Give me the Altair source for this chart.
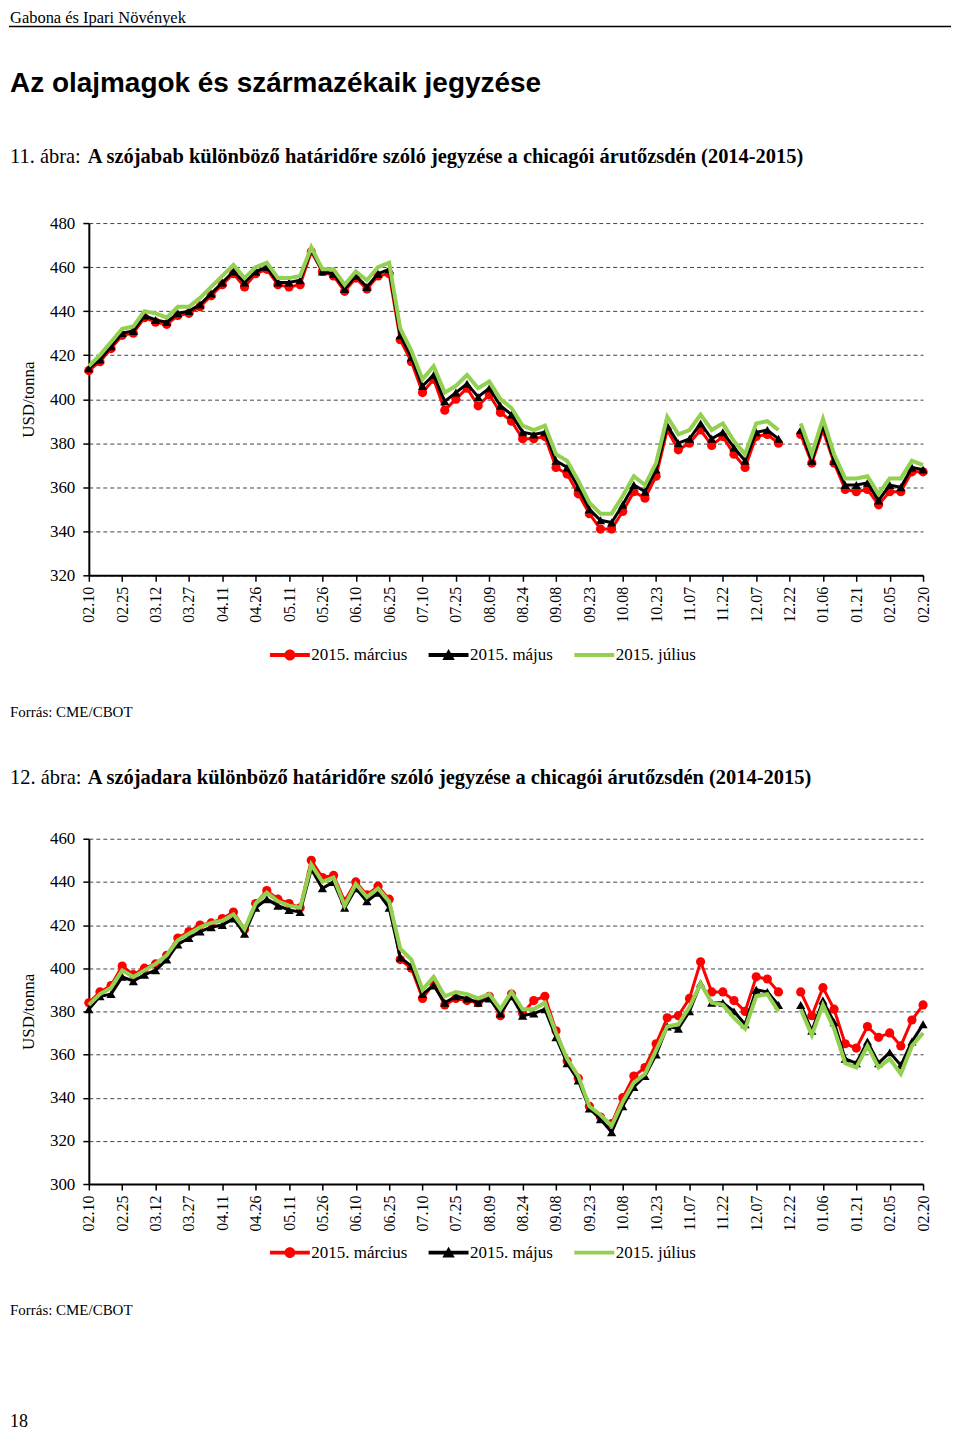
import altair as alt
import pandas as pd

# ---------------- text ----------------
PAGE_SECTION = "Gabona és Ipari Növények"
PAGE_TITLE = "Az olajmagok és származékaik jegyzése"
FIG1_NUM = "11. ábra:"
FIG1_TEXT = "A szójabab különböző határidőre szóló jegyzése a chicagói árutőzsdén (2014-2015)"
FIG2_NUM = "12. ábra:"
FIG2_TEXT = "A szójadara különböző határidőre szóló jegyzése a chicagói árutőzsdén (2014-2015)"
SOURCE = "Forrás: CME/CBOT"
PAGE_NO = "18"
Y_TITLE = "USD/tonna"

SERIES = ["2015. március", "2015. május", "2015. július"]
COLORS = ["#ff0000", "#000000", "#92d050"]

TICK_DATES = ["2014-02-10", "2014-02-25", "2014-03-12", "2014-03-27", "2014-04-11",
              "2014-04-26", "2014-05-11", "2014-05-26", "2014-06-10", "2014-06-25",
              "2014-07-10", "2014-07-25", "2014-08-09", "2014-08-24", "2014-09-08",
              "2014-09-23", "2014-10-08", "2014-10-23", "2014-11-07", "2014-11-22",
              "2014-12-07", "2014-12-22", "2015-01-06", "2015-01-21", "2015-02-05",
              "2015-02-20"]

# observation dates (every 5th calendar day from 2014-02-10 to 2015-02-20)
DATES = [d.strftime("%Y-%m-%d") for d in pd.date_range("2014-02-10", "2015-02-20", freq="5D")]

# ---------------- 11. ábra: szójabab (USD/t) ----------------
SOY_MAR = [413, 417, 423, 429, 430, 437, 435, 434, 438, 439,
           442, 447, 452, 457, 451, 457, 459, 452, 451, 452,
           467, 458, 456, 449, 455, 450, 456, 457, 427, 417,
           403, 409, 395, 400, 405, 397, 402, 394, 390, 382,
           382, 383, 369, 366, 357, 348, 341, 341, 349, 358,
           355, 365, 386, 377, 380, 386, 379, 383, 375, 369,
           383, 384, 380, None, 384, 371, 386, 371, 359, 358,
           359, 352, 358, 358, 367, 367]
SOY_MAY = [414, 418, 424, 430, 431, 438, 436, 435, 439, 440,
           443, 448, 453, 458, 453, 458, 460, 453, 453, 454,
           468, 458, 457, 450, 456, 451, 457, 459, 429, 419,
           406, 411, 399, 403, 407, 401, 405, 397, 393, 385,
           384, 385, 372, 369, 360, 350, 345, 344, 352, 361,
           358, 368, 388, 380, 382, 389, 382, 385, 378, 372,
           385, 386, 382, None, 386, 372, 388, 372, 361, 361,
           362, 354, 361, 360, 369, 368]
SOY_JUL = [415, 420, 426, 432, 433, 440, 439, 437, 442, 442,
           446, 451, 456, 461, 455, 460, 462, 455, 455, 456,
           469, 459, 459, 452, 458, 454, 460, 462, 432, 422,
           409, 415, 403, 406, 411, 405, 408, 400, 396, 388,
           386, 388, 375, 372, 363, 353, 348, 348, 356, 365,
           361, 371, 392, 384, 386, 393, 386, 389, 381, 375,
           389, 390, 386, None, 389, 375, 391, 375, 364, 364,
           365, 357, 364, 364, 372, 370]

# ---------------- 12. ábra: szójadara (USD/t) ----------------
MEAL_MAR = [384, 389, 392, 401, 397, 400, 402, 406, 414, 417,
            420, 421, 423, 426, 418, 430, 436, 432, 430, 428,
            450, 442, 443, 431, 440, 434, 438, 432, 404, 400,
            386, 393, 383, 386, 385, 384, 387, 378, 388, 379,
            385, 387, 371, 357, 349, 336, 331, 328, 340, 350,
            354, 365, 377, 378, 386, 403, 389, 389, 385, 380,
            396, 395, 389, None, 389, 378, 391, 381, 365, 363,
            373, 368, 370, 364, 376, 383]
MEAL_MAY = [381, 387, 388, 396, 394, 397, 399, 404, 411, 414,
            417, 419, 420, 423, 416, 428, 432, 429, 427, 426,
            446, 437, 440, 428, 437, 431, 435, 428, 405, 401,
            388, 392, 384, 387, 386, 384, 386, 379, 387, 378,
            379, 381, 368, 356, 348, 335, 330, 324, 336, 345,
            350, 360, 373, 372, 380, 393, 384, 384, 380, 374,
            390, 389, 383, None, 383, 371, 385, 375, 358, 356,
            366, 356, 361, 355, 366, 374]
MEAL_JUL = [383, 388, 391, 399, 396, 399, 402, 406, 413, 416,
            419, 421, 422, 425, 418, 430, 435, 431, 429, 428,
            448, 440, 442, 429, 439, 433, 437, 431, 409, 404,
            390, 396, 387, 389, 388, 386, 388, 381, 389, 381,
            381, 384, 370, 358, 350, 336, 332, 327, 338, 347,
            351, 362, 373, 374, 382, 393, 384, 383, 377, 372,
            387, 388, 380, None, 381, 369, 383, 372, 356, 354,
            364, 354, 358, 351, 364, 370]

SERIF = "Liberation Serif"
SANS = "Liberation Sans"

# legend symbols: line with marker (unit square coordinates)
LINE_P = "M-1,-0.4 L7,-0.4 L7,0.4 L-1,0.4 Z"
CIRC_P = "M1.9,0 A1.1,1.1 0 1,1 4.1,0 A1.1,1.1 0 1,1 1.9,0 Z"
TRI_P = "M3,-1.2 L4.25,1.0 L1.75,1.0 Z"
LEGEND_PATHS = [LINE_P + " " + CIRC_P, LINE_P + " " + TRI_P, LINE_P]


def dt(s):
    y, m, d = (int(p) for p in s.split("-"))
    return alt.DateTime(year=y, month=m, date=d, utc=True)


def long_df(mar, may, jul):
    rows = []
    for name, vals in zip(SERIES, [mar, may, jul]):
        for d, v in zip(DATES, vals):
            rows.append({"date": d, "series": name, "value": v})
    return pd.DataFrame(rows)


def text_layer(s, xv, yv, size, font=SERIF, weight="normal"):
    return alt.Chart(pd.DataFrame({"t": [s]})).mark_text(
        align="left", baseline="alphabetic", font=font, fontSize=size,
        fontWeight=weight, color="black"
    ).encode(x=alt.value(xv), y=alt.value(yv), text="t:N")


def rule_h(x1, x2, yv, w, color):
    return alt.Chart(pd.DataFrame({"a": [0]})).mark_rule(color=color, strokeWidth=w).encode(
        x=alt.value(x1), x2=alt.value(x2), y=alt.value(yv))


def rule_v(xv, y1, y2, w, color):
    return alt.Chart(pd.DataFrame({"a": [0]})).mark_rule(color=color, strokeWidth=w).encode(
        x=alt.value(xv), y=alt.value(y1), y2=alt.value(y2))


def panel(df, ymin, ymax, h, legend_y, extras):
    cscale = alt.Scale(domain=SERIES, range=COLORS)
    x = alt.X("date:T", title=None,
              scale=alt.Scale(type="utc", domain=[dt(TICK_DATES[0]), dt(TICK_DATES[-1])]),
              axis=alt.Axis(values=[dt(s) for s in TICK_DATES],
                            labelExpr="utcFormat(datum.value, '%m.%d')",
                            labelAngle=270, labelAlign="right", labelBaseline="middle",
                            labelPadding=5, labelFont=SERIF, labelFontSize=16,
                            labelColor="black", labelFlush=False, labelOverlap=False,
                            tickSize=6, tickColor="black", tickWidth=1.5,
                            domainColor="black", domainWidth=2, grid=False))
    y = alt.Y("value:Q", title=Y_TITLE,
              scale=alt.Scale(domain=[ymin, ymax], nice=False, zero=False),
              axis=alt.Axis(values=list(range(ymin, ymax + 1, 20)), grid=True,
                            gridDash=[4, 3], gridColor="#444444", gridWidth=1,
                            labelFont=SERIF, labelFontSize=17, labelColor="black",
                            labelPadding=8, labelFlush=False,
                            tickSize=6, tickColor="black", tickWidth=1.5,
                            domainColor="black", domainWidth=2,
                            titleFont=SERIF, titleFontSize=17, titleFontWeight="normal",
                            titleColor="black", titlePadding=12))
    base = alt.Chart(df)

    def line(i, w):
        return base.transform_filter(alt.datum.series == SERIES[i]).mark_line(
            strokeWidth=w).encode(x=x, y=y, color=alt.Color("series:N", scale=cscale, legend=None))

    def pts(i, shape):
        return base.transform_filter(alt.datum.series == SERIES[i]).mark_point(
            shape=shape, filled=True, size=85, opacity=1, strokeWidth=0).encode(
            x=x, y=y, color=alt.Color("series:N", scale=cscale, legend=None))

    leg = alt.Legend(title=None, orient="none", legendX=178, legendY=legend_y,
                     direction="horizontal", symbolSize=100, symbolStrokeWidth=0,
                     symbolOpacity=1,
                     labelFont=SERIF, labelFontSize=17, labelColor="black",
                     labelOffset=28, columnPadding=17, padding=0)
    # invisible layer (first observation of each series) that only carries the legend
    legend_layer = alt.Chart(df[df["date"] == DATES[0]]).mark_point(
        filled=True, opacity=0, size=100).encode(
        x=x, y=y,
        color=alt.Color("series:N", scale=cscale, legend=leg),
        shape=alt.Shape("series:N", scale=alt.Scale(domain=SERIES, range=LEGEND_PATHS), legend=leg))

    layers = [legend_layer, line(0, 3), pts(0, "circle"), line(1, 3), pts(1, "triangle-up"),
              line(2, 4)] + extras
    return alt.layer(*layers).properties(width=836, height=h)


df1 = long_df(SOY_MAR, SOY_MAY, SOY_JUL)
df2 = long_df(MEAL_MAR, MEAL_MAY, MEAL_JUL)

extras1 = [
    rule_v(-80, -213.5, 505, 1, "white"),
    text_layer(PAGE_SECTION, -79, -200.5, 16.5),
    rule_h(-80, 864, -197, 1.5, "black"),
    text_layer(PAGE_TITLE, -79, -131, 28, font=SANS, weight="bold"),
    text_layer(FIG1_NUM, -79, -60, 20.5),
    text_layer(FIG1_TEXT, -1, -60, 20.5, weight="bold"),
    text_layer(SOURCE, -79, 495, 15),
]
extras2 = [
    rule_v(-80, -110, 560, 1, "white"),
    text_layer(FIG2_NUM, -79, -55, 20.5),
    text_layer(FIG2_TEXT, -1, -55, 20.5, weight="bold"),
    text_layer(SOURCE, -79, 477, 15),
    text_layer(PAGE_NO, -79, 589, 18),
]

p1 = panel(df1, 320, 480, 353, 424, extras1)
p2 = panel(df2, 300, 460, 346, 406, extras2)

chart = alt.vconcat(p1, p2, spacing=0).resolve_scale(
    color="independent", shape="independent"
).resolve_legend(
    color="independent", shape="independent"
).properties(padding=0).configure(
    background="white").configure_view(stroke=None)

chart.save("out.html", embed_options={"renderer": "svg", "actions": False})
